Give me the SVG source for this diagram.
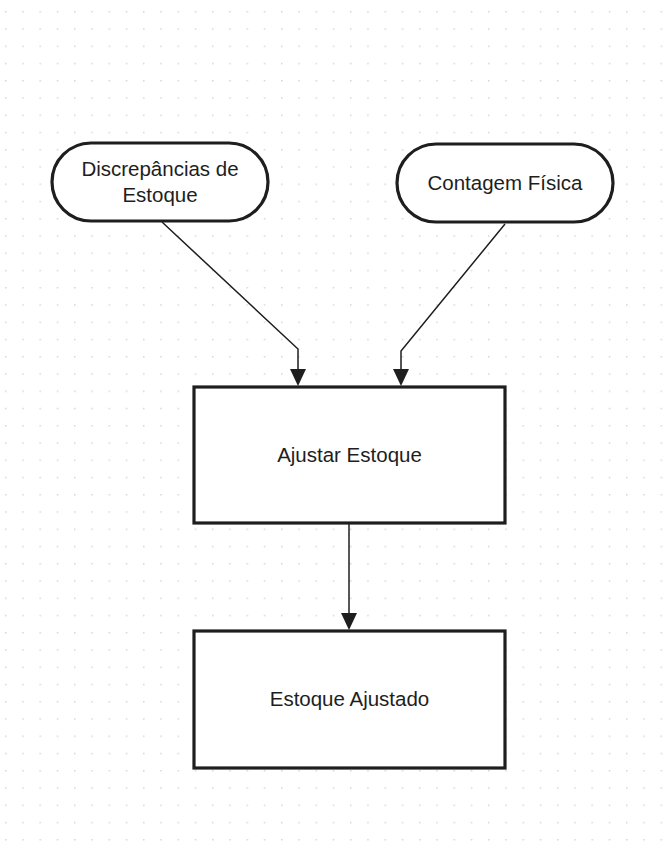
<svg xmlns="http://www.w3.org/2000/svg" width="664" height="856" viewBox="0 0 664 856">
<style>
.node{fill:#ffffff;stroke:#1e1e1e;stroke-width:3.2}
.lbl{font-family:"Liberation Sans",Arial,sans-serif;font-size:20.5px;fill:#1e1e1e;text-anchor:middle;dominant-baseline:central}
.edge{fill:none;stroke:#1e1e1e;stroke-width:1.5}
</style>
<defs>
<pattern id="dots" x="5" y="11" width="17.25" height="17.25" patternUnits="userSpaceOnUse">
<rect x="0" y="0" width="1.5" height="1.5" fill="#d6d6d6"/>
</pattern>
</defs>
<rect width="664" height="856" fill="#ffffff"/>
<rect width="664" height="856" fill="url(#dots)"/>
<g id="connectors">
<path class="edge" d="M162,222 L298,349 L298,369"/>
<path d="M290,369 L306,369 L298,386 Z" fill="#1e1e1e"/>
<path class="edge" d="M505,224 L401,351 L401,369"/>
<path d="M393,369 L409,369 L401,386 Z" fill="#1e1e1e"/>
<path class="edge" d="M349,524 L349,613"/>
<path d="M341,613 L357,613 L349,630 Z" fill="#1e1e1e"/>
</g>
<g id="discrepancias">
<rect class="node" x="52" y="143" width="216" height="78" rx="39" ry="39"/>
<text class="lbl" x="160" y="168">Discrepâncias de</text>
<text class="lbl" x="160" y="194">Estoque</text>
</g>
<g id="contagem">
<rect class="node" x="397" y="144" width="216" height="78" rx="39" ry="39"/>
<text class="lbl" x="505" y="182.5">Contagem Física</text>
</g>
<g id="ajustar">
<rect class="node" x="194" y="387" width="311" height="136"/>
<text class="lbl" x="349.5" y="454">Ajustar Estoque</text>
</g>
<g id="ajustado">
<rect class="node" x="194" y="631" width="311" height="137"/>
<text class="lbl" x="349.5" y="698">Estoque Ajustado</text>
</g>
</svg>
